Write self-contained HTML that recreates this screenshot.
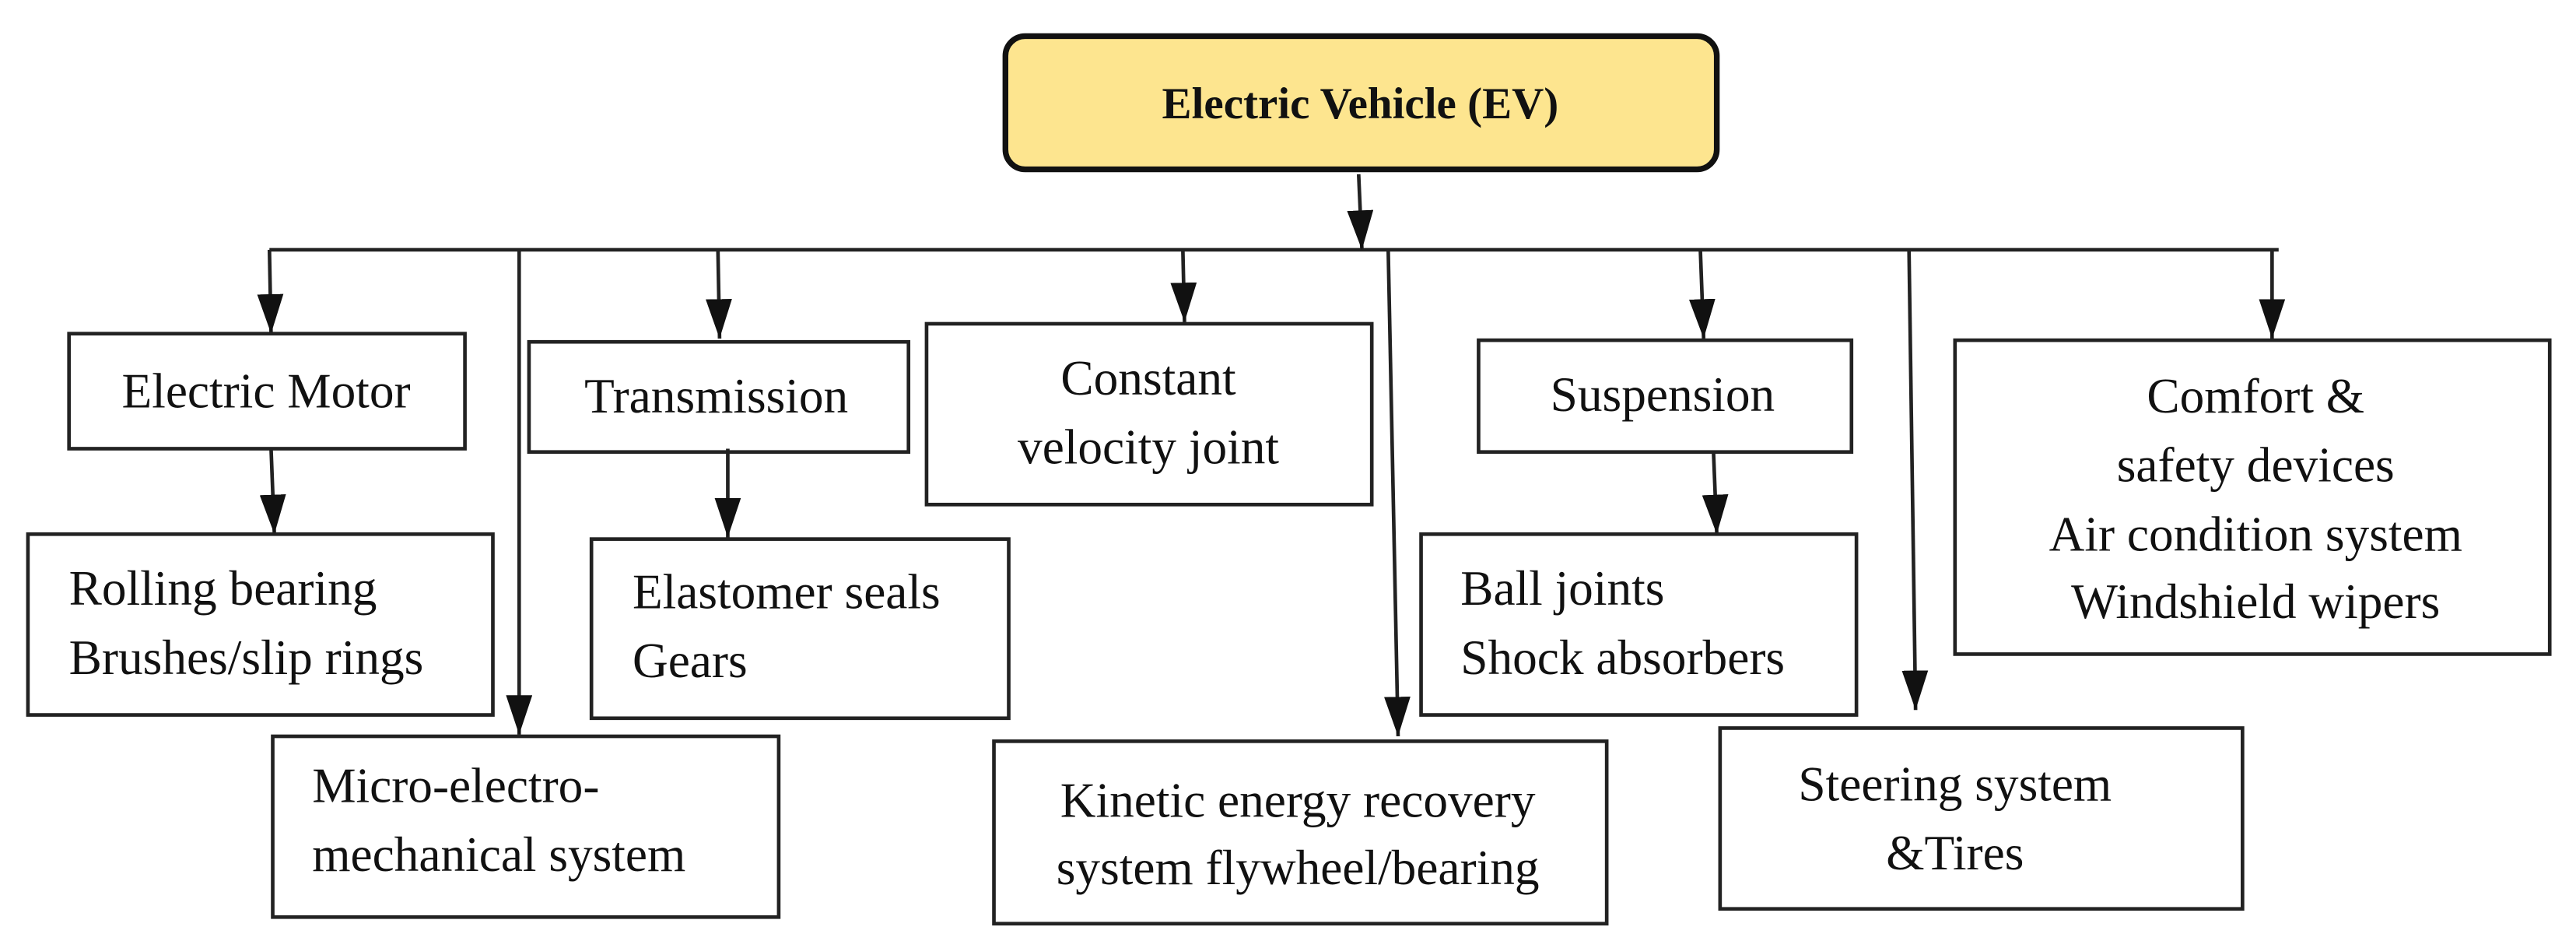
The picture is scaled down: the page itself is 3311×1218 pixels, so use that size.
<!DOCTYPE html>
<html><head><meta charset="utf-8"><style>html,body{margin:0;padding:0;background:#fff}svg{display:block}</style></head>
<body>
<svg width="3311" height="1218" viewBox="0 0 1568 576.8" xmlns="http://www.w3.org/2000/svg" font-family="Liberation Serif, serif" font-size="30" fill="#111">
<defs><marker id="a" viewBox="0 0 24 16" refX="24" refY="8" markerWidth="24" markerHeight="16" markerUnits="userSpaceOnUse" orient="auto"><path d="M0 0L24 8L0 16Z" fill="#111"/></marker></defs>
<g stroke="#222" stroke-width="2.2" fill="none">
<rect x="612" y="22" width="433" height="81" rx="12" fill="#fde58f" stroke="#111" stroke-width="3.5"/>
<line x1="164" y1="152" x2="1387" y2="152"/>
<line x1="827" y1="106" x2="829" y2="152" marker-end="url(#a)"/>
<line x1="164" y1="152" x2="165" y2="203" marker-end="url(#a)"/>
<line x1="165" y1="273" x2="167" y2="325" marker-end="url(#a)"/>
<line x1="316" y1="152" x2="316" y2="447" marker-end="url(#a)"/>
<line x1="437" y1="152" x2="438" y2="206" marker-end="url(#a)"/>
<line x1="443" y1="273" x2="443" y2="327" marker-end="url(#a)"/>
<line x1="720" y1="152" x2="721" y2="196" marker-end="url(#a)"/>
<line x1="845" y1="152" x2="851" y2="448" marker-end="url(#a)"/>
<line x1="1035" y1="152" x2="1037" y2="206" marker-end="url(#a)"/>
<line x1="1043" y1="275" x2="1045" y2="325" marker-end="url(#a)"/>
<line x1="1162" y1="152" x2="1166" y2="432" marker-end="url(#a)"/>
<line x1="1383" y1="152" x2="1383" y2="206" marker-end="url(#a)"/>
<rect x="42" y="203" width="241" height="70"/>
<rect x="17" y="325" width="283" height="110"/>
<rect x="166" y="448" width="308" height="110"/>
<rect x="322" y="208" width="231" height="67"/>
<rect x="360" y="328" width="254" height="109"/>
<rect x="564" y="197" width="271" height="110"/>
<rect x="605" y="451" width="373" height="111"/>
<rect x="900" y="207" width="227" height="68"/>
<rect x="865" y="325" width="265" height="110"/>
<rect x="1047" y="443" width="318" height="110"/>
<rect x="1190" y="207" width="362" height="191"/>
</g>
<text x="828" y="72" text-anchor="middle" font-weight="bold" font-size="27">Electric Vehicle (EV)</text>
<text x="162" y="248" text-anchor="middle">Electric Motor</text>
<text x="42" y="368">Rolling bearing</text>
<text x="42" y="410">Brushes/slip rings</text>
<text x="436" y="251" text-anchor="middle">Transmission</text>
<text x="385" y="370">Elastomer seals</text>
<text x="385" y="412">Gears</text>
<text x="699" y="240" text-anchor="middle">Constant</text>
<text x="699" y="282" text-anchor="middle">velocity joint</text>
<text x="190" y="488">Micro-electro-</text>
<text x="190" y="530">mechanical system</text>
<text x="790" y="497" text-anchor="middle">Kinetic energy recovery</text>
<text x="790" y="538" text-anchor="middle">system flywheel/bearing</text>
<text x="1012" y="250" text-anchor="middle">Suspension</text>
<text x="889" y="368">Ball joints</text>
<text x="889" y="410">Shock absorbers</text>
<text x="1190" y="487" text-anchor="middle">Steering system</text>
<text x="1190" y="529" text-anchor="middle">&amp;Tires</text>
<text x="1373" y="251" text-anchor="middle">Comfort &amp;</text>
<text x="1373" y="293" text-anchor="middle">safety devices</text>
<text x="1373" y="335" text-anchor="middle">Air condition system</text>
<text x="1373" y="376" text-anchor="middle">Windshield wipers</text>
</svg>
</body></html>
